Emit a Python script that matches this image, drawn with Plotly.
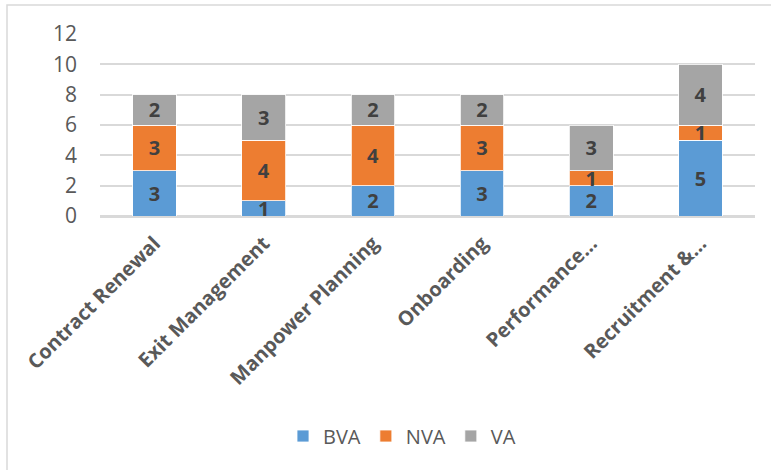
import plotly.graph_objects as go

# Process areas and value-added classification counts
categories = [
    "Contract Renewal",
    "Exit Management",
    "Manpower Planning",
    "Onboarding",
    "Performance…",
    "Recruitment &…",
]
bva = [3, 1, 2, 3, 2, 5]
nva = [3, 4, 4, 3, 1, 1]
va = [2, 3, 2, 2, 3, 4]

series = [
    ("BVA", bva, "#5B9BD5"),
    ("NVA", nva, "#ED7D31"),
    ("VA", va, "#A5A5A5"),
]

FONT = "Open Sans"
AXIS_GREY = "#595959"
LABEL_GREY = "#404040"
GRID = "#D9D9D9"

fig = go.Figure()
for name, values, color in series:
    fig.add_trace(
        go.Bar(
            name=name,
            x=categories,
            y=values,
            marker=dict(color=color, line=dict(color="rgba(255,255,255,0.8)", width=1)),
            text=[str(v) for v in values],
            textposition="inside",
            insidetextanchor="middle",
            constraintext="none",
            textangle=0,
            textfont=dict(family=FONT, size=20, color=LABEL_GREY, weight="bold"),
            hoverinfo="skip",
        )
    )

W, H = 771, 470
ml, mr, mt, mb = 100, 16, 34, 254
pw, ph = W - ml - mr, H - mt - mb


def px_x(x):
    return (x - ml) / pw


def px_y(y):
    return (H - mb - y) / ph


fig.update_layout(
    width=W,
    height=H,
    barmode="stack",
    bargap=0.6,
    margin=dict(l=ml, r=mr, t=mt, b=mb, autoexpand=False),
    paper_bgcolor="white",
    plot_bgcolor="white",
    font=dict(family=FONT, color=AXIS_GREY),
    showlegend=True,
    legend=dict(
        orientation="h",
        x=px_x(402),
        xanchor="center",
        y=px_y(436),
        yanchor="middle",
        font=dict(family=FONT, size=20, color=AXIS_GREY),
        itemwidth=30,
        traceorder="normal",
    ),
    xaxis=dict(
        tickangle=-45,
        tickfont=dict(family=FONT, size=20, color=AXIS_GREY, weight="bold"),
        showline=True,
        linecolor=GRID,
        linewidth=1.5,
        ticks="",
        ticklabelstandoff=6,
        showgrid=False,
        fixedrange=True,
    ),
    yaxis=dict(
        range=[0, 12],
        dtick=2,
        tickfont=dict(family=FONT, size=21, color=AXIS_GREY),
        showgrid=True,
        gridcolor=GRID,
        gridwidth=1.5,
        zeroline=True,
        zerolinecolor=GRID,
        zerolinewidth=1.5,
        ticks="",
        ticklabelstandoff=22,
        fixedrange=True,
    ),
    shapes=[
        dict(
            type="rect",
            xref="paper",
            yref="paper",
            x0=px_x(7),
            y0=px_y(520),
            x1=px_x(820),
            y1=px_y(5),
            line=dict(color=GRID, width=1.5),
            layer="below",
        )
    ],
)

fig.write_html("out.html")
